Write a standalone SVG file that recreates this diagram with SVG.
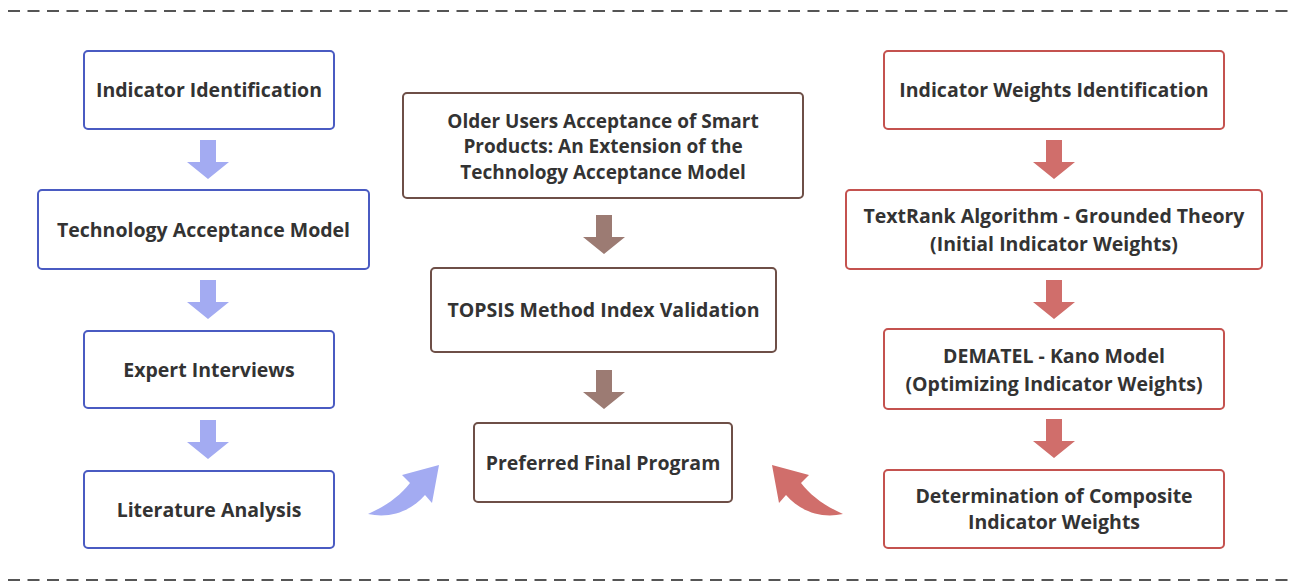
<svg xmlns="http://www.w3.org/2000/svg" width="1296" height="583" viewBox="0 0 1296 583">
<style>
.box{fill:#fff;stroke-width:2}
.b{stroke:#4a5bc2}
.m{stroke:#6e4f47}
.r{stroke:#c4524f}
text{font-family:"Open Sans","Noto Sans","Liberation Sans",sans-serif;font-weight:bold;font-size:19.5px;fill:#333;text-anchor:middle}
.sm{font-size:19px}
.dash{stroke:#555;stroke-width:2;stroke-dasharray:12 7.5;fill:none}
.ab{fill:#a3abf2}
.am{fill:#9c7b73}
.ar{fill:#d06e6b}
</style>
<defs>
<path id="down" d="M-8 0 H8 V22 H21 L0 39 L-21 22 H-8 Z"/>
<path id="curve" d="M368 514 C386 506 400 496 410 483 L402 475 L439 465 L432 503 L425 495 C412 510 392 519 368 514 Z"/>
</defs>
<line class="dash" x1="8" y1="11" x2="1290" y2="11"/>
<line class="dash" x1="8" y1="580" x2="1290" y2="580"/>

<g id="n-indicator-identification"><rect class="box b" x="84" y="51" width="250" height="78" rx="4"/><text x="209" y="97">Indicator Identification</text></g>
<g id="n-tam"><rect class="box b" x="38" y="190" width="331" height="79" rx="4"/><text x="203.5" y="236.5">Technology Acceptance Model</text></g>
<g id="n-expert"><rect class="box b" x="84" y="331" width="250" height="77" rx="4"/><text x="209" y="376.5">Expert Interviews</text></g>
<g id="n-literature"><rect class="box b" x="84" y="471" width="250" height="77" rx="4"/><text x="209" y="516.5">Literature Analysis</text></g>

<g id="n-older"><rect class="box m" x="403" y="93" width="400" height="105" rx="4"/><text class="sm" x="603" y="127.5">Older Users Acceptance of Smart</text><text class="sm" x="603" y="153">Products: An Extension of the</text><text class="sm" x="603" y="178.5">Technology Acceptance Model</text></g>
<g id="n-topsis"><rect class="box m" x="431" y="268" width="345" height="84" rx="4"/><text x="603.5" y="317">TOPSIS Method Index Validation</text></g>
<g id="n-preferred"><rect class="box m" x="474" y="423" width="258" height="79" rx="4"/><text x="603" y="469.5">Preferred Final Program</text></g>

<g id="n-weights-id"><rect class="box r" x="884" y="51" width="340" height="78" rx="4"/><text x="1054" y="97">Indicator Weights Identification</text></g>
<g id="n-textrank"><rect class="box r" x="846" y="190" width="416" height="79" rx="4"/><text x="1054" y="223">TextRank Algorithm - Grounded Theory</text><text x="1054" y="251">(Initial Indicator Weights)</text></g>
<g id="n-dematel"><rect class="box r" x="884" y="329" width="340" height="80" rx="4"/><text x="1054" y="363">DEMATEL - Kano Model</text><text x="1054" y="391">(Optimizing Indicator Weights)</text></g>
<g id="n-composite"><rect class="box r" x="884" y="470" width="340" height="78" rx="4"/><text x="1054" y="502.5">Determination of Composite</text><text x="1054" y="528.5">Indicator Weights</text></g>

<g id="connectors">
<use href="#down" class="ab" x="208" y="140"/>
<use href="#down" class="ab" x="208" y="280"/>
<use href="#down" class="ab" x="208" y="420"/>
<use href="#down" class="am" x="604" y="215"/>
<use href="#down" class="am" x="604" y="370"/>
<use href="#down" class="ar" x="1054" y="140"/>
<use href="#down" class="ar" x="1054" y="280"/>
<use href="#down" class="ar" x="1054" y="419"/>
<use href="#curve" class="ab"/>
<use href="#curve" class="ar" transform="translate(1211 0) scale(-1 1)"/>
</g>
</svg>
